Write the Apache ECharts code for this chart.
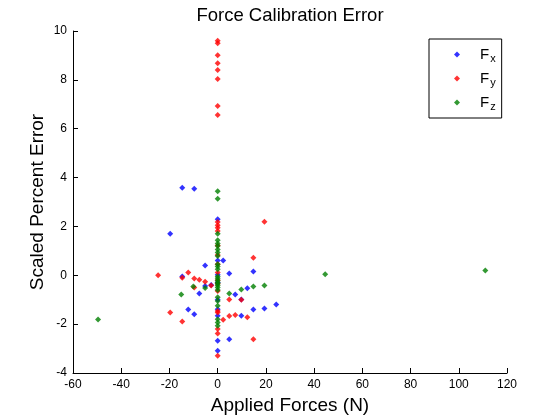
<!DOCTYPE html>
<html>
<head>
<meta charset="utf-8">
<script src="https://cdn.jsdelivr.net/npm/echarts@6/dist/echarts.min.js"></script>
<style>html,body{margin:0;padding:0;background:#fff;}#c{width:560px;height:420px;}</style>
</head>
<body>
<div id="c"></div>
<script>
var titleText = 'Force Calibration Error';
var xName = 'Applied Forces (N)';
var yName = 'Scaled Percent Error';
var seriesNames = ['Fx', 'Fy', 'Fz'];
var subscripts = { Fx: 'x', Fy: 'y', Fz: 'z' };

var fxPoints = [
  [-14.7,3.58],[-9.7,3.54],[-19.7,1.70],[-5.2,0.40],[-14.7,-0.05],[-5.2,-0.44],[-7.6,-0.75],
  [-12.2,-1.40],[-9.7,-1.60],[2.3,0.61],[4.8,0.07],[14.8,0.15],[-2.7,-0.40],[7.3,-0.79],
  [12.3,-0.53],[9.8,-0.99],[14.8,-1.40],[19.4,-1.36],[24.3,-1.20],[9.8,-1.66],[4.8,-2.62],
  [0,2.29],[0,0.61],[0,0.02],[0,-0.3],[0,-1.0],[0,-1.39],[0,-1.66],[0,-2.68],[0,-3.09]
];
var fyPoints = [
  [0,9.6],[0,9.5],[0,9.01],[0,8.68],[0,8.40],[0,8.03],[0,6.93],[0,6.56],
  [-24.7,0.0],[-14.7,-0.1],[-12.2,0.11],[-9.7,-0.13],[-7.6,-0.18],[-5.2,-0.26],[-9.7,-0.5],
  [-19.7,-1.52],[-14.7,-1.89],[19.4,2.19],[14.8,0.72],[-2.7,-0.42],[4.8,-0.99],[9.8,-1.0],
  [2.3,-1.82],[4.8,-1.67],[7.3,-1.63],[12.3,-1.72],[14.8,-2.62],
  [0,2.18],[0,2.05],[0,1.95],[0,1.81],[0,1.22],[0,0.83],[0,0.45],[0,0.11],[0,-0.2],
  [0,-0.35],[0,-0.64],[0,-1.46],[0,-1.52],[0,-2.2],[0,-2.38],[0,-3.29]
];
var fzPoints = [
  [-49.6,-1.81],[-15.1,-0.79],[-10.1,-0.46],[-5.2,-0.52],[4.8,-0.75],[9.8,-0.58],[14.8,-0.46],
  [19.4,-0.42],[44.6,0.04],[111,0.2],
  [0,3.44],[0,3.13],[0,1.70],[0,1.43],[0,1.3],[0,1.2],[0,1.06],[0,0.93],[0,0.79],[0,0.45],
  [0,0.36],[0,0.25],[0,-0.05],[0,-0.12],[0,-0.2],[0,-0.28],[0,-0.35],[0,-0.42],[0,-0.5],
  [0,-0.6],[0,-0.9],[0,-1.05],[0,-1.25],[0,-1.8],[0,-1.93],[0,-2.07]
];
var seriesData = [fxPoints, fyPoints, fzPoints];
var seriesColors = ['#0000ff', '#ff0000', '#008000'];

var FONT = 'Liberation Sans, Arial, sans-serif';
var chart = echarts.init(document.getElementById('c'));
chart.setOption({
  backgroundColor: '#fff',
  animation: false,
  graphic: [{
    type: 'text', x: 290, y: 16,
    style: { text: titleText, font: '18.5px ' + FONT, fill: '#000', align: 'center', verticalAlign: 'middle' }
  }],
  grid: { left: 73, right: 53, top: 31, bottom: 46, containLabel: false },
  legend: {
    orient: 'vertical',
    left: 429, top: 39,
    padding: [6, 6, 6, 25],
    itemWidth: 6, itemHeight: 6, itemGap: 5,
    borderColor: '#000', borderWidth: 1, backgroundColor: '#fff',
    data: seriesNames,
    formatter: function (n) { return '{a|F}{b|' + subscripts[n] + '}'; },
    textStyle: {
      padding: [0, 0, 0, 15],
      rich: {
        a: { fontSize: 15, fontFamily: FONT, color: '#000', lineHeight: 20 },
        b: { fontSize: 11, fontFamily: FONT, color: '#000', lineHeight: 20, padding: [8, 0, 0, 1] }
      }
    }
  },
  xAxis: {
    type: 'value', min: -60, max: 120, interval: 20,
    name: xName, nameLocation: 'middle', nameGap: 23, nameMoveOverlap: false,
    nameTextStyle: { fontSize: 19, fontFamily: FONT, color: '#000' },
    axisLine: { show: true, onZero: false, lineStyle: { color: '#000', width: 1 } },
    axisTick: { show: true, inside: true, length: 5, lineStyle: { color: '#000' } },
    axisLabel: { fontSize: 12, fontFamily: FONT, color: '#000', margin: 6 },
    splitLine: { show: false }
  },
  yAxis: {
    type: 'value', min: -4, max: 10, interval: 2,
    name: yName, nameLocation: 'middle', nameGap: 26, nameRotate: 90, nameMoveOverlap: false,
    nameTextStyle: { fontSize: 19, fontFamily: FONT, color: '#000' },
    axisLine: { show: true, onZero: false, lineStyle: { color: '#000', width: 1 } },
    axisTick: { show: true, inside: true, length: 5, lineStyle: { color: '#000' } },
    axisLabel: { fontSize: 12, fontFamily: FONT, color: '#000', margin: 6 },
    splitLine: { show: false }
  },
  series: seriesNames.map(function (n, i) {
    return {
      name: n, type: 'scatter', symbol: 'diamond', symbolSize: 6,
      itemStyle: { color: seriesColors[i] },
      data: seriesData[i]
    };
  })
});
</script>
</body>
</html>
